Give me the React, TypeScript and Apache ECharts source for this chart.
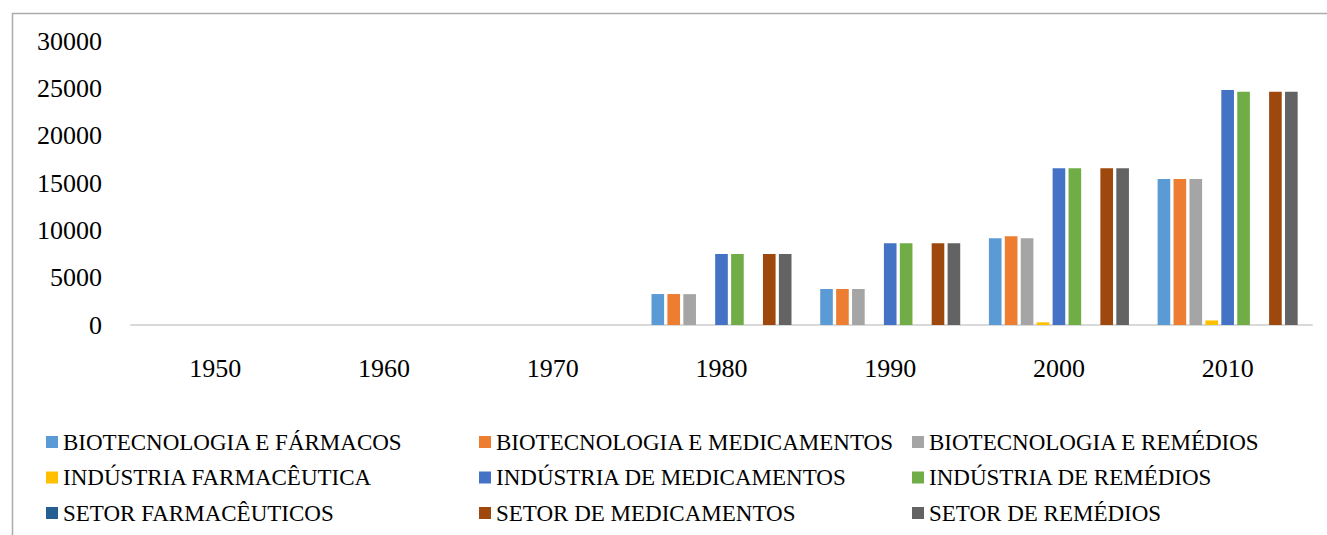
import React, { useEffect, useRef } from "react";
import * as echarts from "echarts";

const categories = ["1950", "1960", "1970", "1980", "1990", "2000", "2010"];

const seriesNames = [
  "BIOTECNOLOGIA E FÁRMACOS",
  "BIOTECNOLOGIA E MEDICAMENTOS",
  "BIOTECNOLOGIA E REMÉDIOS",
  "INDÚSTRIA FARMACÊUTICA",
  "INDÚSTRIA DE MEDICAMENTOS",
  "INDÚSTRIA DE REMÉDIOS",
  "SETOR FARMACÊUTICOS",
  "SETOR DE MEDICAMENTOS",
  "SETOR DE REMÉDIOS",
];

const bioFarmacos = [0, 0, 0, 3270, 3800, 9160, 15420];
const bioMedicamentos = [0, 0, 0, 3270, 3800, 9370, 15420];
const bioRemedios = [0, 0, 0, 3260, 3800, 9160, 15420];
const indFarmaceutica = [0, 0, 0, 0, 0, 280, 480];
const indMedicamentos = [0, 0, 0, 7500, 8630, 16550, 24820];
const indRemedios = [0, 0, 0, 7500, 8630, 16550, 24640];
const setorFarmaceuticos = [0, 0, 0, 0, 0, 0, 0];
const setorMedicamentos = [0, 0, 0, 7500, 8630, 16550, 24640];
const setorRemedios = [0, 0, 0, 7500, 8630, 16550, 24640];

const seriesValues = [
  bioFarmacos,
  bioMedicamentos,
  bioRemedios,
  indFarmaceutica,
  indMedicamentos,
  indRemedios,
  setorFarmaceuticos,
  setorMedicamentos,
  setorRemedios,
];

const colors = [
  "#5B9BD5",
  "#ED7D31",
  "#A5A5A5",
  "#FFC000",
  "#4472C4",
  "#70AD47",
  "#255E91",
  "#9E480E",
  "#636363",
];

const FONT = '"Liberation Serif", "Times New Roman", serif';

export default function App() {
  const ref = useRef<HTMLDivElement>(null);

  useEffect(() => {
    if (!ref.current) return;
    const chart = echarts.init(ref.current, null, { renderer: "svg" });

    const legendCols = [0, 1, 2].map((c) => ({
      orient: "vertical" as const,
      left: [46, 479, 912][c],
      top: 430,
      height: 200,
      padding: 0,
      itemWidth: 12,
      itemHeight: 12,
      itemGap: 11.5,
      icon: "rect",
      selectedMode: false,
      data: [seriesNames[c], seriesNames[c + 3], seriesNames[c + 6]],
      textStyle: {
        fontFamily: FONT,
        fontSize: 23,
        color: "#000",
        lineHeight: 24,
      },
    }));

    chart.setOption({
      animation: false,
      color: colors,
      graphic: [
        {
          type: "rect",
          shape: { x: 12.5, y: 13.5, width: 1400, height: 600 },
          style: { fill: "none", stroke: "#ABABAB", lineWidth: 1.5 },
          silent: true,
        },
      ],
      grid: { left: 131, right: 15, top: 41, bottom: 210, containLabel: false },
      legend: legendCols,
      xAxis: {
        type: "category",
        data: categories,
        axisLine: { lineStyle: { color: "#D9D9D9", width: 2 } },
        axisTick: { show: false },
        axisLabel: {
          fontFamily: FONT,
          fontSize: 26,
          color: "#000",
          margin: 30,
        },
      },
      yAxis: {
        type: "value",
        min: 0,
        max: 30000,
        interval: 5000,
        splitLine: { show: false },
        axisLine: { show: false },
        axisTick: { show: false },
        axisLabel: {
          fontFamily: FONT,
          fontSize: 26,
          color: "#000",
          margin: 29,
          formatter: (v: number) => String(v),
        },
      },
      series: seriesNames.map((name, i) => ({
        name,
        type: "bar",
        data: seriesValues[i],
        barGap: "26%",
        barCategoryGap: "17%",
        itemStyle: { color: colors[i] },
      })),
    });

    return () => chart.dispose();
  }, []);

  return (
    <div
      ref={ref}
      style={{ position: "fixed", left: 0, top: 0, width: 1327, height: 535, background: "#fff" }}
    />
  );
}
